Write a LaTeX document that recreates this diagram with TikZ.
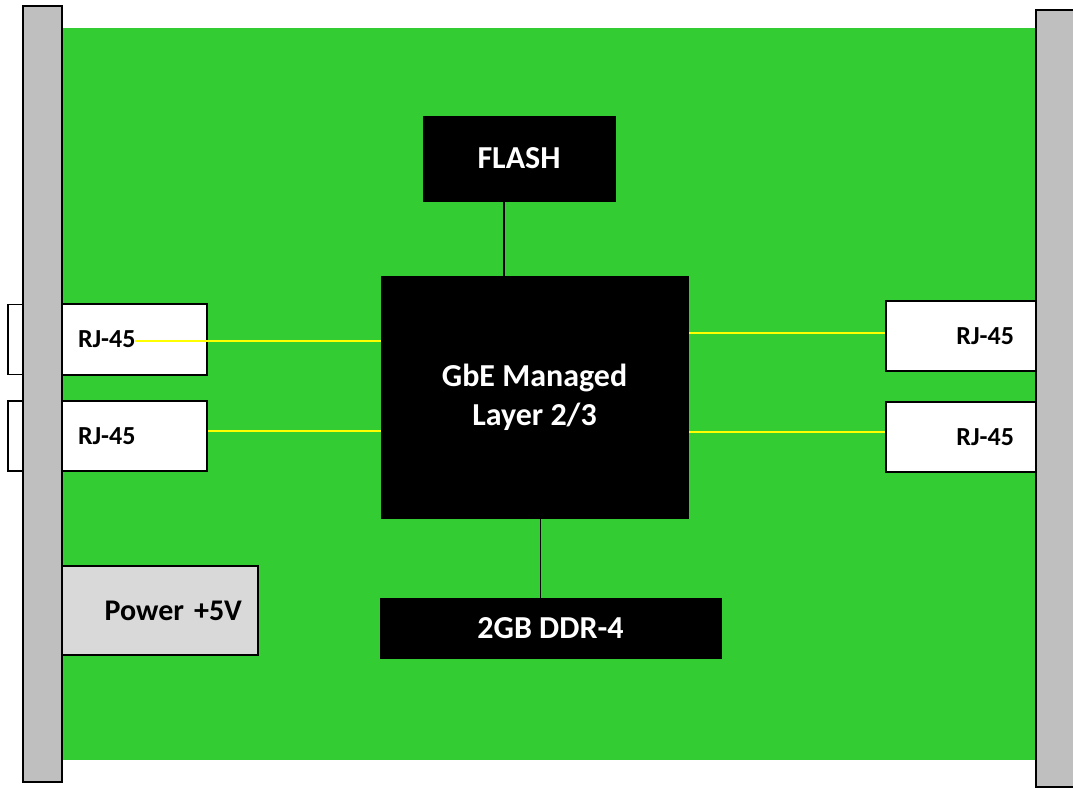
\documentclass[tikz,border=0pt]{standalone}
\usepackage{fontspec}
\setmainfont{Carlito}
\usepackage{xcolor}
\definecolor{board}{HTML}{33CC33}
\definecolor{rail}{HTML}{BFBFBF}
\definecolor{pwrgrey}{HTML}{D9D9D9}
\definecolor{trace}{HTML}{FFFF00}

\begin{document}
\begin{tikzpicture}[x=1pt,y=-1pt,
		font=\fontsize{26}{37}\selectfont\bfseries,
		chip/.style={fill=black,text=white,draw=black,line width=1pt,align=center,inner sep=0pt,font=\fontsize{32}{39}\selectfont\bfseries},
		port/.style={fill=white,draw=black,line width=1.5pt,minimum height=70pt,inner ysep=0pt},
		portl/.style={port,minimum width=145pt,inner xsep=16pt,text width=113pt,align=left},
		portr/.style={port,minimum width=150pt,inner xsep=22pt,text width=106pt,align=right},
		tab/.style={fill=white,draw=black,line width=1.5pt,minimum width=15pt,minimum height=70pt,inner sep=0pt},
		wire/.style={draw=black,line width=1.5pt},
		lane/.style={draw=trace,line width=2pt}]
		\useasboundingbox (0,0) rectangle (1073,788);
		% board and front rails
		\fill [board] (62,28) rectangle (1036,760);
		\draw [fill=rail,line width=1.5pt] (23,6) rectangle (62,782);
		\draw [fill=rail,line width=1.5pt] (1036,10) rectangle (1090,787);
		% ports
		\node (taba) [tab] at (15.5,339.5) {};
		\node (tabb) [tab] at (15.5,436) {};
		\node (rjla) [portl,minimum height=71pt] at (134.5,339.5) {RJ-45};
		\node (rjlb) [portl] at (134.5,436) {RJ-45};
		\node (rjra) [portr] at (961,336) {RJ-45};
		\node (rjrb) [portr] at (961,437) {RJ-45};
		\node (pwr) [port,fill=pwrgrey,minimum width=196pt,minimum height=89pt,inner xsep=16pt,text width=164pt,align=right,font=\fontsize{30}{36}\selectfont\bfseries] at (160,610.5) {Power +5V};
		% chips
		\node (gbe) [chip,minimum width=307pt,minimum height=242pt] at (534.5,397) {GbE Managed\\Layer 2/3};
		\node (flash) [chip,minimum width=192pt,minimum height=85pt] at (519,158.5) {FLASH};
		\node (ddr) [chip,minimum width=341pt,minimum height=60pt] at (550.5,628) {2GB DDR-4};
		% links
		\draw [wire] ([xshift=-15pt]flash.south) -- ([xshift=-15pt]flash.south |- gbe.north);
		\draw [wire] ([xshift=6pt]gbe.south) -- ([xshift=6pt]gbe.south |- ddr.north);
		\draw [lane] ([yshift=-1.5pt]rjla.center) -- ([yshift=-1.5pt]rjla.center -| gbe.west);
		\draw [lane] ([yshift=5pt]rjlb.east) -- ([yshift=5pt]rjlb.east -| gbe.west);
		\draw [lane] ([yshift=3pt]rjra.west) -- ([yshift=3pt]rjra.west -| gbe.east);
		\draw [lane] ([yshift=5pt]rjrb.west) -- ([yshift=5pt]rjrb.west -| gbe.east);
	\end{tikzpicture}
\end{document}
